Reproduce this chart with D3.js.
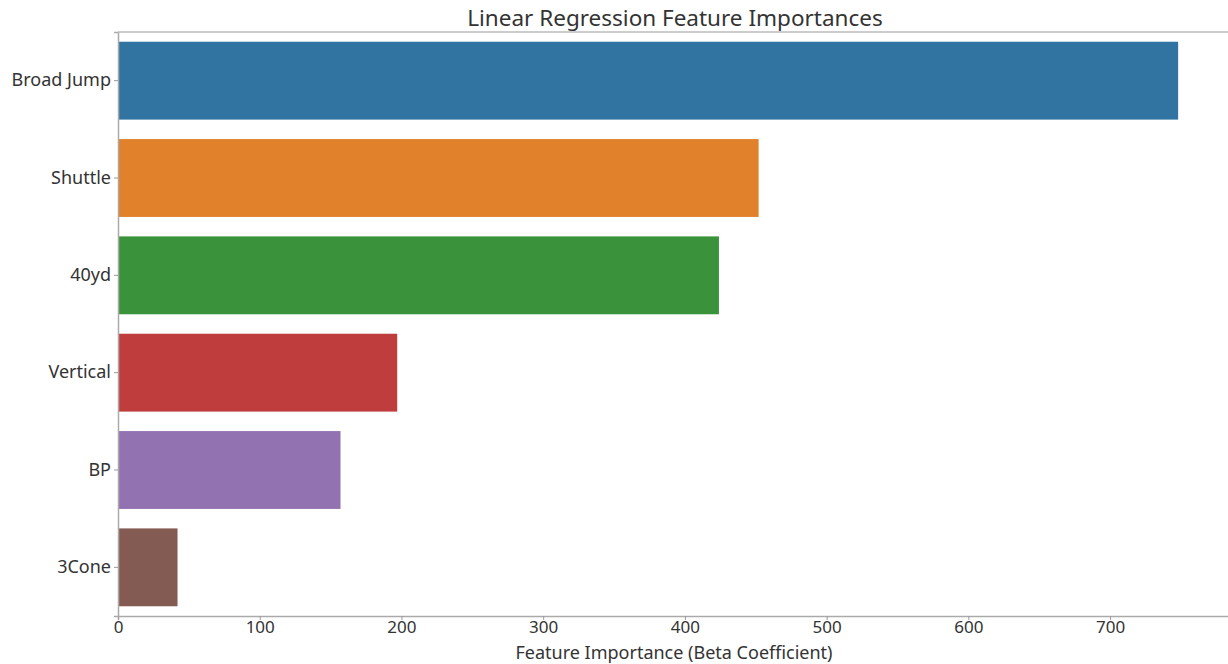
<!DOCTYPE html>
<html>
<head>
<meta charset="utf-8">
<script src="https://cdn.jsdelivr.net/npm/d3@7"></script>
<style>
  body { margin: 0; background: #fff; }
  svg { display: block; font-family: "Noto Sans", "Open Sans", sans-serif; }
  .tick text { fill: #333; font-size: 18px; font-family: "Noto Sans", "Open Sans", sans-serif; }
  .x-axis .tick text { font-size: 17px; }
</style>
</head>
<body>
<svg id="chart" width="1228" height="664"></svg>
<script>
// data
const features = ['Broad Jump', 'Shuttle', '40yd', 'Vertical', 'BP', '3Cone'];
const importances = [748, 452, 424, 197, 157, 42];
const barColors = ['#3274a1', '#e1812c', '#3a923a', '#c03d3e', '#9372b2', '#845b53'];
const xTicks = [0, 100, 200, 300, 400, 500, 600, 700];

const svg = d3.select('#chart');
const margin = { top: 32, right: -4, bottom: 48, left: 118 };
const width = 1228 - margin.left - margin.right;
const height = 664 - margin.top - margin.bottom;

const x = d3.scaleLinear().domain([0, 786]).range([0, width]);
const y = d3.scaleBand().domain(features).range([0, height])
  .paddingInner(0.2).paddingOuter(0.1);

const g = svg.append('g').attr('transform', `translate(${margin.left},${margin.top})`);

// bars
g.selectAll('.bar')
  .data(features)
  .join('rect')
    .attr('class', 'bar')
    .attr('x', 0)
    .attr('y', d => y(d))
    .attr('width', (d, i) => x(importances[i]))
    .attr('height', y.bandwidth())
    .style('fill', (d, i) => barColors[i]);

// x axis
const xAxis = g.append('g')
  .attr('class', 'x-axis')
  .attr('transform', `translate(0,${height})`)
  .call(d3.axisBottom(x).tickValues(xTicks).tickSize(4).tickPadding(1));

// y axis
const yAxis = g.append('g')
  .call(d3.axisLeft(y).tickSize(4).tickPadding(3));

[xAxis, yAxis].forEach(a => {
  a.attr('font-family', null);
  a.select('.domain').attr('stroke', '#aaa').attr('stroke-width', 1.5);
  a.selectAll('.tick line').attr('stroke', '#999');
});

// top spine
g.append('line')
  .attr('x1', 0).attr('x2', width)
  .attr('y1', 0).attr('y2', 0)
  .attr('stroke', '#bbb')
  .attr('stroke-width', 1.5);

// title
svg.append('text')
  .attr('x', 675)
  .attr('y', 26)
  .attr('text-anchor', 'middle')
  .style('font-size', '22.5px')
  .style('fill', '#333')
  .text('Linear Regression Feature Importances');

// x label
svg.append('text')
  .attr('x', 674)
  .attr('y', 659)
  .attr('text-anchor', 'middle')
  .style('font-size', '18px')
  .style('fill', '#333')
  .text('Feature Importance (Beta Coefficient)');
</script>
</body>
</html>
